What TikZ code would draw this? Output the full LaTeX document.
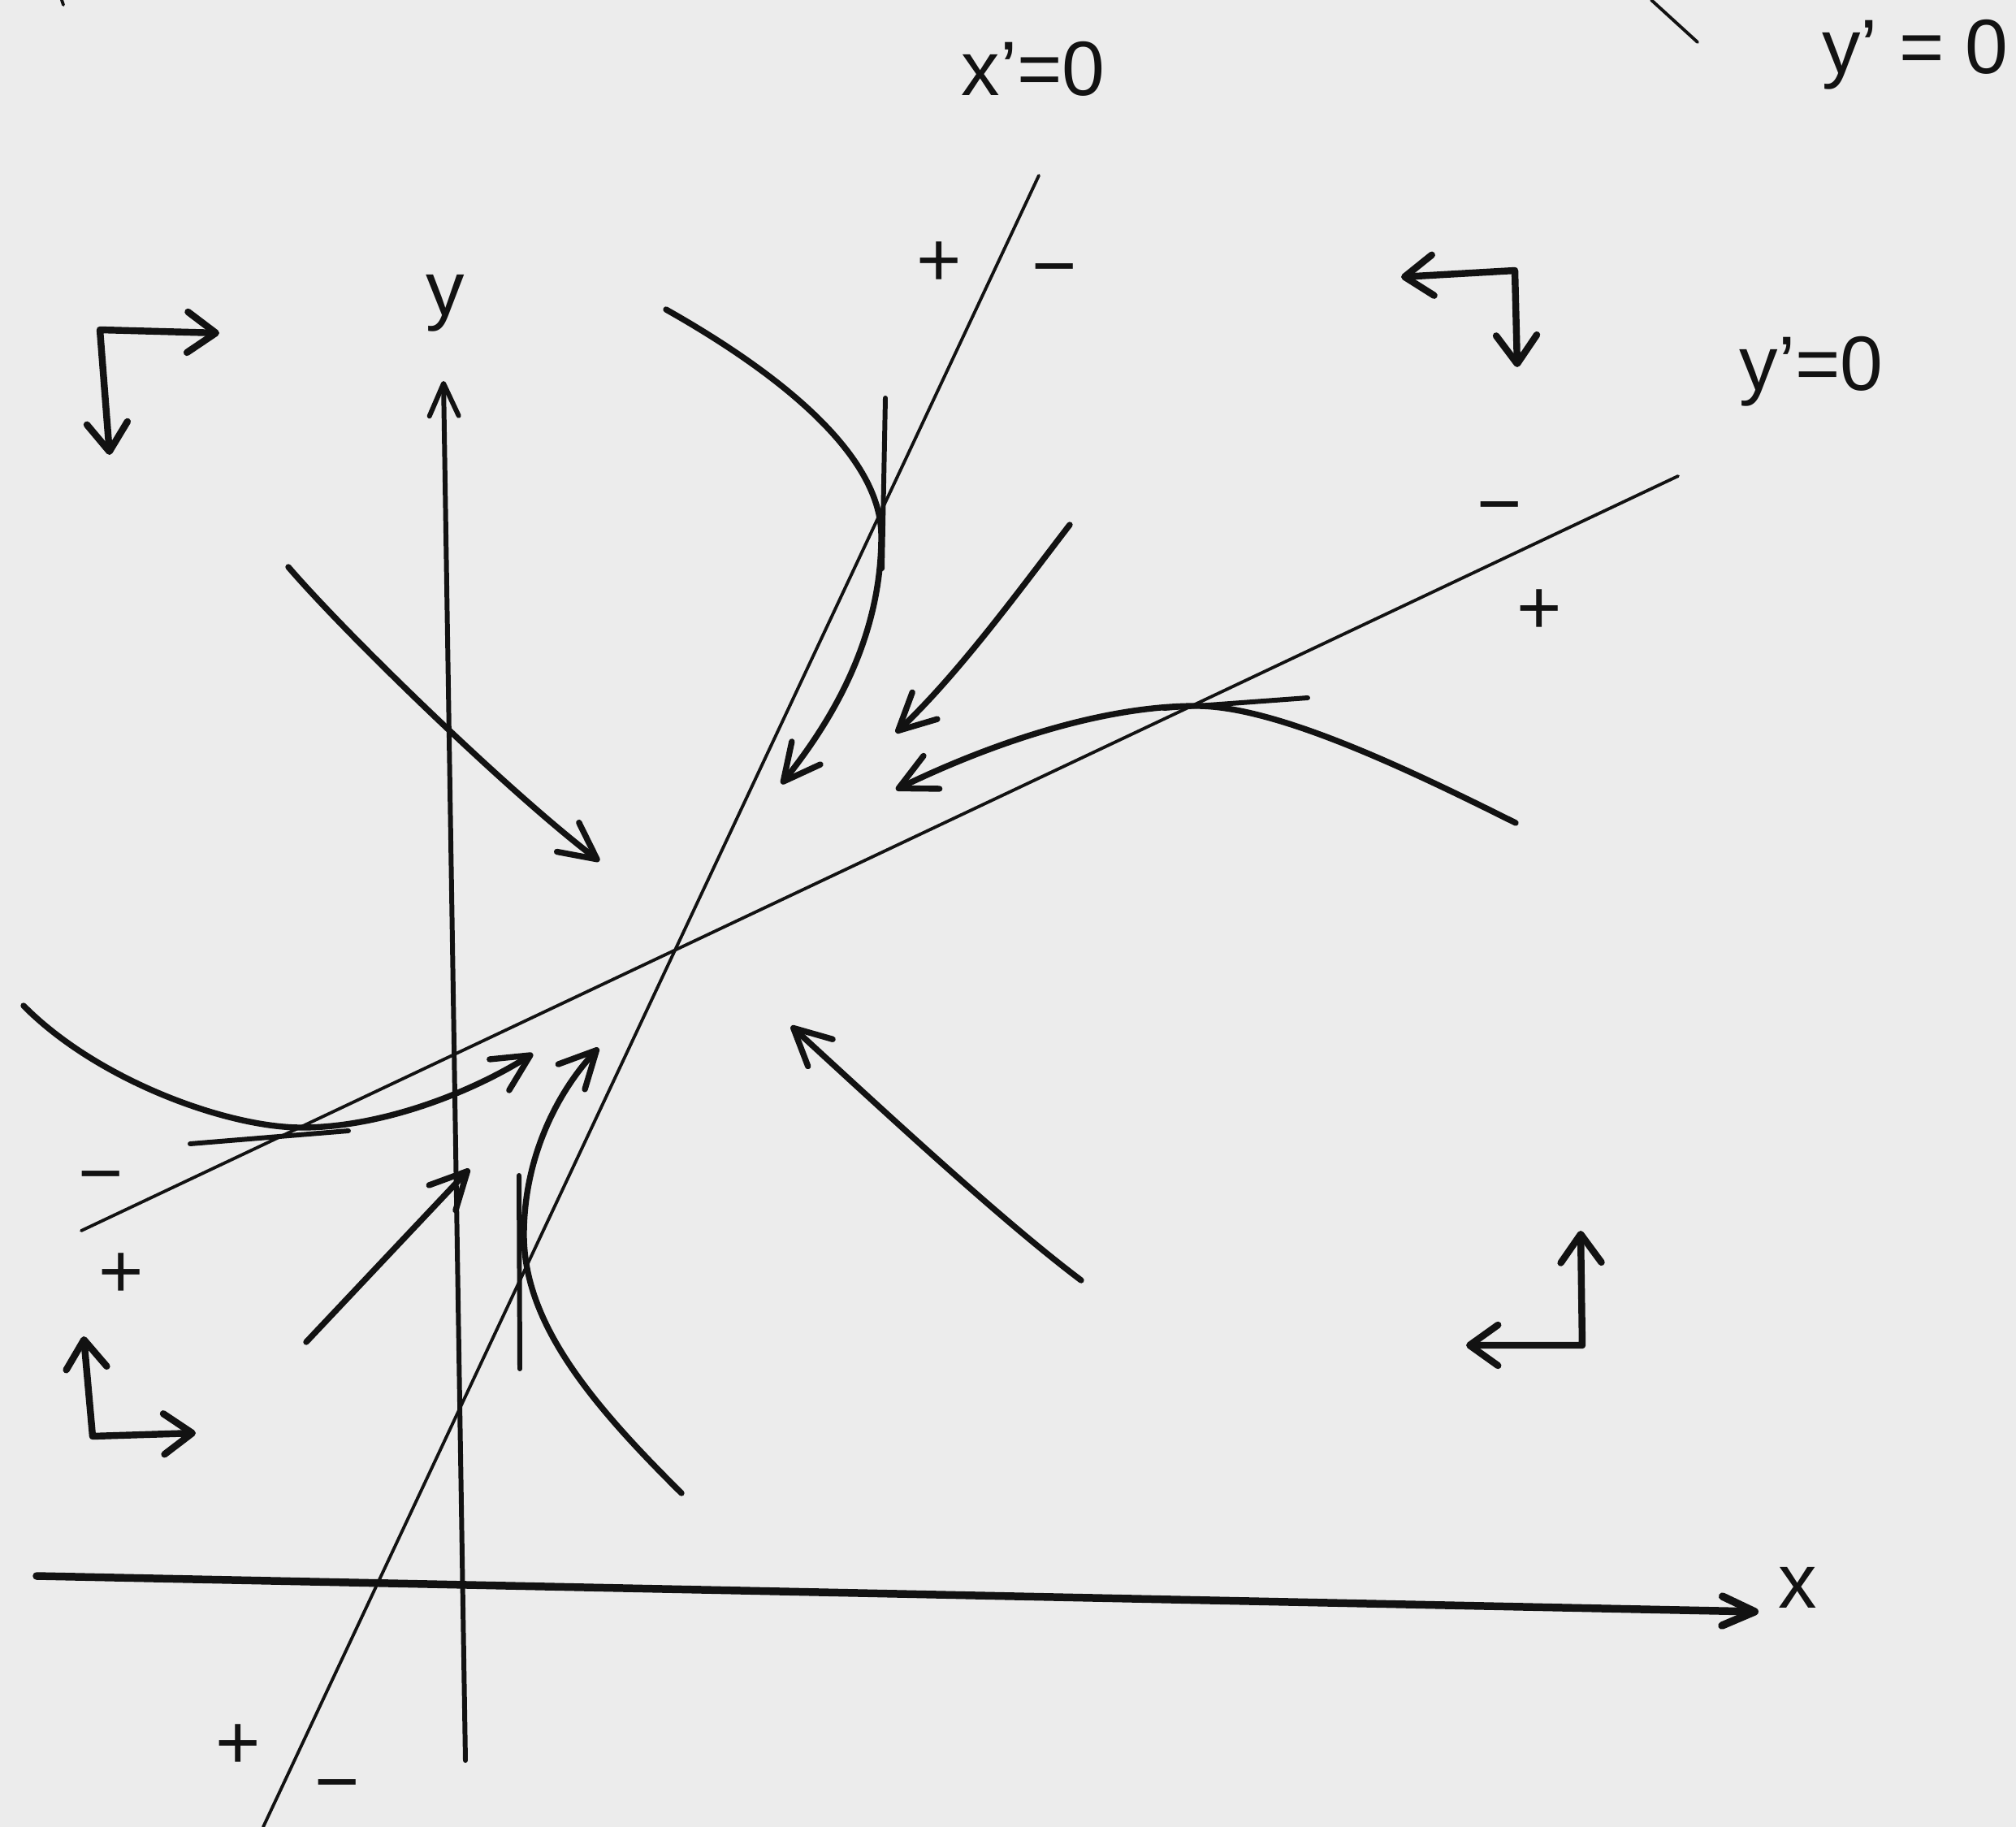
\documentclass[tikz,border=0pt]{standalone}
\usepackage{fontspec}
\setmainfont{Liberation Sans}
\usetikzlibrary{arrows.meta}
\definecolor{papier}{RGB}{236,236,236}
\definecolor{tinte}{RGB}{18,18,18}
\tikzset{
    achse/.style={tinte, line width=1.7pt, -{Straight Barb[length=4mm,width=3.6mm,round]}},
    nulllinie/.style={tinte, line width=1.1pt},
    bahn/.style={tinte, line width=2.1pt, -{Straight Barb[length=4.5mm,width=4.5mm,round]}},
    tangente/.style={tinte, line width=1.7pt},
    richtung/.style={tinte, line width=2.4pt, line join=round,
        {Straight Barb[length=3.5mm,width=5mm,round]}-{Straight Barb[length=3.5mm,width=5mm,round]}},
    schrift/.style={tinte, inner sep=0pt, font=\fontsize{27}{32}\selectfont},
}

\begin{document}
\begin{tikzpicture}[line cap=round]
    % Papier
    \fill[papier] (0,0) rectangle (24.82,-22.49);
    \useasboundingbox (0,0) rectangle (24.82,-22.49);

    % Achsen
    \draw[achse, line width=2.7pt] (0.45,-19.40) -- (21.65,-19.84);
    \node[schrift] (xname) at (22.13,-19.54) {x};
    \draw[achse] (5.73,-21.67) -- (5.46,-4.69);
    \node[schrift] (yname) at (5.48,-3.73) {y};

    % Nullklinen x'=0 und y'=0
    \coordinate (xn1) at (12.79,-2.16);
    \coordinate (xn2) at (3.24,-22.49);
    \coordinate (yn1) at (1.00,-15.15);
    \coordinate (yn2) at (20.66,-5.86);
    \draw[nulllinie] (xn1) -- (xn2);
    \draw[nulllinie] (yn1) -- (yn2);
    \node[schrift] (xnull) at (12.72,-0.85) {x’=0};
    \node[schrift] (ynull) at (22.30,-4.57) {y’=0};
    \node[schrift] (ynullb) at (23.58,-0.67) {y’ = 0};
    \draw[nulllinie] (20.33,0) -- (20.90,-0.52);
    \draw[nulllinie] (0.76,0) -- (0.78,-0.06);

    % Vorzeichen
    \node[schrift] (po) at (11.56,-3.25) {+};
    \node[schrift] (mo) at (12.98,-3.42) {−};
    \node[schrift] (pu) at (2.93,-21.50) {+};
    \node[schrift] (mu) at (4.15,-22.08) {−};
    \node[schrift] (mr) at (18.46,-6.35) {−};
    \node[schrift] (pr) at (18.95,-7.53) {+};
    \node[schrift] (ml) at (1.24,-14.59) {−};
    \node[schrift] (pl) at (1.49,-15.70) {+};

    % Richtungen in den vier Bereichen
    \draw[richtung] (2.70,-4.10) -- (1.23,-4.06) -- (1.35,-5.60);
    \draw[richtung] (17.25,-3.41) -- (18.65,-3.33) -- (18.68,-4.52);
    \draw[richtung] (1.03,-16.45) -- (1.14,-17.68) -- (2.41,-17.64);
    \draw[richtung] (19.46,-15.15) -- (19.48,-16.56) -- (18.05,-16.56);

    % Trajektorien
    \draw[bahn] (3.55,-6.98) .. controls (4.3,-7.85) and (6.3,-9.78) .. (7.38,-10.60);
    \draw[bahn] (8.20,-3.81) .. controls (9.6,-4.6) and (10.85,-5.6) .. (10.85,-6.6)
        .. controls (10.85,-7.8) and (10.3,-8.8) .. (9.62,-9.65);
    \draw[bahn] (13.17,-6.46) .. controls (12.6,-7.2) and (11.8,-8.3) .. (11.03,-9.02);
    \draw[bahn] (18.66,-10.13) .. controls (17.3,-9.45) and (15.7,-8.69) .. (14.73,-8.69)
        .. controls (13.5,-8.69) and (12.1,-9.2) .. (11.03,-9.72);
    \draw[bahn] (13.31,-15.76) .. controls (12.3,-15.0) and (10.8,-13.6) .. (9.74,-12.63);
    \draw[bahn] (0.29,-12.38) .. controls (1.2,-13.3) and (2.8,-13.88) .. (3.71,-13.88)
        .. controls (4.7,-13.88) and (5.8,-13.45) .. (6.56,-12.97);
    \draw[bahn] (3.77,-16.52) -- (5.78,-14.39);
    \draw[bahn] (8.39,-18.38) .. controls (7.3,-17.3) and (6.45,-16.3) .. (6.45,-15.2)
        .. controls (6.45,-14.2) and (6.9,-13.4) .. (7.37,-12.90);

    % Tangenten auf den Nullklinen
    \draw[tangente] (10.90,-4.90) -- (10.86,-7.00);
    \draw[tangente] (14.33,-8.72) -- (16.10,-8.59);
    \draw[tangente] (2.34,-14.08) -- (4.29,-13.92);
    \draw[tangente] (6.39,-14.47) -- (6.40,-16.85);
\end{tikzpicture}
\end{document}
